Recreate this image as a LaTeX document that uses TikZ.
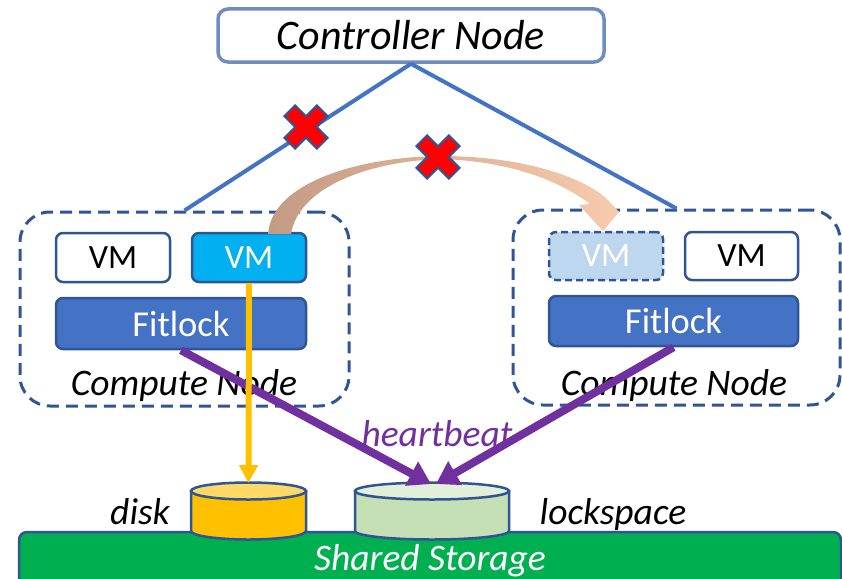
\documentclass[tikz,border=0pt]{standalone}
\usepackage{fontspec}
\setmainfont{Carlito}
\usetikzlibrary{arrows.meta,calc}
\definecolor{ctrlborder}{HTML}{6F8BBF}
\definecolor{linkblue}{HTML}{4472C4}
\definecolor{darkblue}{HTML}{2F5597}
\definecolor{vmcyan}{HTML}{00B0F0}
\definecolor{ghostvm}{HTML}{BDD7EE}
\definecolor{diskgold}{HTML}{FFC000}
\definecolor{disktop}{HTML}{FFD966}
\definecolor{lockgreen}{HTML}{C5E0B4}
\definecolor{locktop}{HTML}{E2F0D9}
\definecolor{hbpurple}{HTML}{7030A0}
\definecolor{storegreen}{HTML}{00B050}
\definecolor{crossred}{HTML}{FF0000}
\definecolor{migbrown}{HTML}{C39B83}
\definecolor{migpeach}{HTML}{F8CBAD}
\newcommand\failmark[2]{%
  \filldraw[fill=crossred,draw=darkblue,line width=2pt,shift={(#1,#2)},rotate=45]
    (-7.5,-23)--(7.5,-23)--(7.5,-7.5)--(23,-7.5)--(23,7.5)--(7.5,7.5)--(7.5,23)--(-7.5,23)--(-7.5,7.5)
    --(-23,7.5)--(-23,-7.5)--(-7.5,-7.5)--cycle;}
\tikzset{
  box/.style={draw=darkblue, line width=2.5pt, rounded corners=7pt, inner sep=0pt},
  vmbox/.style={box, minimum width=114pt, minimum height=49pt,
    font=\fontsize{34}{34}\selectfont},
  lockbox/.style={box, fill=linkblue, text=white, minimum width=250pt,
    minimum height=51pt, font=\fontsize{36.5}{36.5}\selectfont},
  hostbox/.style={draw=darkblue, line width=3pt, dash pattern=on 12pt off 7pt,
    rounded corners=30pt, minimum width=329pt, minimum height=194pt},
  label/.style={font=\fontsize{37.5}{37.5}\selectfont\itshape, anchor=base, inner sep=0pt},
  link/.style={draw=linkblue, line width=4pt},
  beat/.style={draw=hbpurple, line width=8pt, -{Triangle[length=22pt,width=26pt]}},
  cyl/.style={draw=darkblue, line width=2.5pt},
}
\begin{document}
\begin{tikzpicture}[x=1pt,y=-1pt]
\useasboundingbox (0,0) rectangle (842,578);

% controller
\node[draw=ctrlborder, line width=3.5pt, rounded corners=10pt, minimum width=386pt,
  minimum height=53pt, inner sep=0pt, font=\fontsize{42}{42}\selectfont\itshape]
  (ctrl) at (411,35.5) {Controller Node};

% compute hosts
\node[hostbox] (hostL) at (184.5,309) {};
\node[hostbox, minimum width=327pt, minimum height=195pt] (hostR) at (676.5,307.5) {};

% management links
\draw[link] (ctrl.south) -- (hostL.north);
\draw[link] (ctrl.south) -- (hostR.north);

% VMs and Fitlock on the left host
\node[vmbox, fill=white] (vmL1) at (113,257.5) {VM};
\node[vmbox, fill=vmcyan, text=white] (vmL2) at (249,257.5) {VM};
\node[lockbox] (fitL) at (181,323.5) {Fitlock};
\node[label] (cnL) at (184,395) {Compute Node};

% VMs and Fitlock on the right host
\node[vmbox, fill=ghostvm, text=white, dash pattern=on 7pt off 4pt, minimum height=48pt]
  (vmR1) at (606,256) {VM};
\node[vmbox, fill=white, minimum height=48pt, minimum width=113pt] (vmR2) at (741.5,256) {VM};
\node[lockbox, minimum width=249pt, minimum height=50pt] (fitR) at (673.5,321) {Fitlock};
\node[label] (cnR) at (674,395) {Compute Node};

% migration arc
\shade[left color=migbrown, right color=migpeach, middle color=migbrown!50!migpeach]
  (268,234) .. controls (272,182) and (360,157) .. (440,156)
  .. controls (520,156) and (584,176) .. (609,201)
  -- (619,212) -- (603,231) -- (579,205) -- (590,204)
  .. controls (560,181) and (510,161) .. (440,159)
  .. controls (362,162) and (298,190) .. (291,234) -- cycle;

% failure marks
\failmark{306}{127}
\failmark{438}{157}

% shared storage
\draw[draw=darkblue, line width=2.5pt, fill=storegreen, rounded corners=8pt]
  (19,532) rectangle (841,600);
\node[label, text=white] (store) at (430,570) {Shared Storage};

% disk cylinder
\filldraw[cyl, fill=diskgold] (191,491) -- (191,531)
  arc[start angle=180, end angle=0, x radius=57.5, y radius=8.5] -- (306,491) -- cycle;
\filldraw[cyl, fill=disktop] (248.5,491) ellipse [x radius=57.5, y radius=8.5];
\coordinate (disk) at (248.5,483);

% lockspace cylinder
\filldraw[cyl, fill=lockgreen] (355,491) -- (355,531)
  arc[start angle=180, end angle=0, x radius=77, y radius=8.5] -- (509,491) -- cycle;
\filldraw[cyl, fill=locktop] (432,491) ellipse [x radius=77, y radius=8.5];
\coordinate (lsL) at (431,484);
\coordinate (lsR) at (436,484);

\node[label] (diskname) at (140,524) {disk};
\node[label] (lsname) at (613,524) {lockspace};

% heartbeat arrows
\draw[beat] (fitL.south) -- (lsL);
\draw[beat] (fitR.south) -- (lsR);
\node[label, text=hbpurple] (hb) at (437,446) {heartbeat};

% VM disk I/O
\draw[draw=diskgold, line width=6pt, -{Triangle[length=18pt,width=18pt]}]
  (vmL2.south) -- (disk);
\end{tikzpicture}
\end{document}
